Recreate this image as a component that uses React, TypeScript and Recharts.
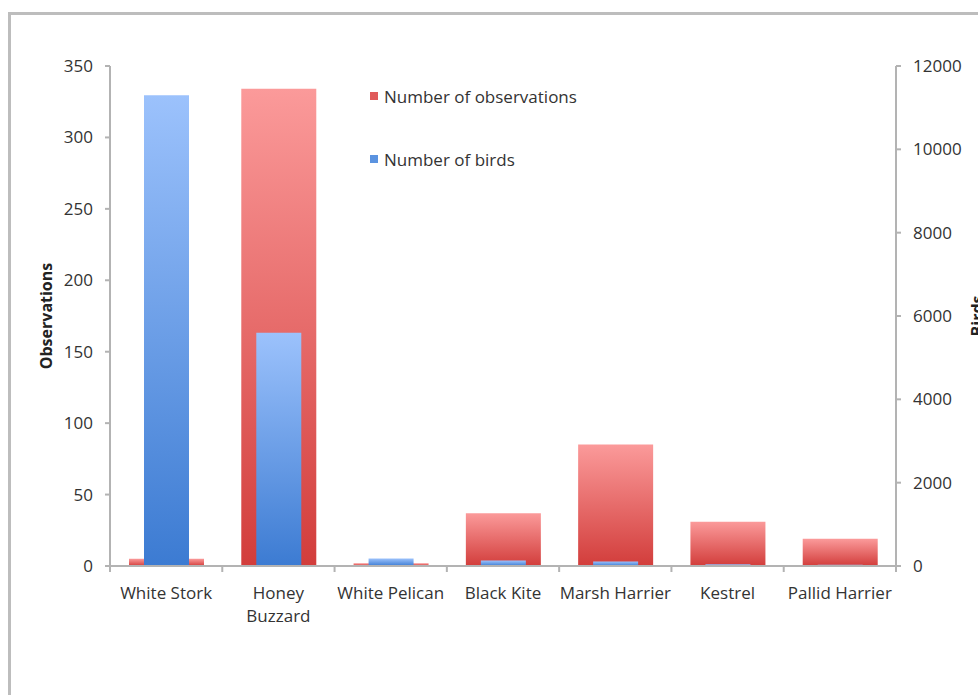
import { BarChart, Bar, XAxis, YAxis } from "recharts";

const species = [
  "White Stork",
  "Honey Buzzard",
  "White Pelican",
  "Black Kite",
  "Marsh Harrier",
  "Kestrel",
  "Pallid Harrier",
];
const observations = [5, 334, 2, 37, 85, 31, 19];
const birds = [11300, 5600, 180, 130, 110, 40, 30];

const obsTicks = [0, 50, 100, 150, 200, 250, 300, 350];
const birdTicks = [0, 2000, 4000, 6000, 8000, 10000, 12000];

// labels that the axis breaks onto two lines
const tickLines: Record<string, string[]> = {
  "Honey Buzzard": ["Honey", "Buzzard"],
};

const legendItems = [
  { label: "Number of observations", color: "#e05a5a" },
  { label: "Number of birds", color: "#5b93e0" },
];

const data = species.map((name, i) => ({
  name,
  observations: observations[i],
  birds: birds[i],
}));

const FONT = "'Open Sans', Lato, sans-serif";
const AXIS = "#b3b3b3";
const TEXT = "#333";
const SIZE = 17;

// category label plus the boundary tick marks between categories
function CategoryTick(props: any) {
  const { x, y, payload, index, visibleTicksCount } = props;
  const half = 786 / species.length / 2;
  const lines = tickLines[payload.value] ?? [payload.value];
  const last = index === (visibleTicksCount ?? species.length) - 1;
  return (
    <g>
      <line x1={x - half} x2={x - half} y1={y - 14} y2={y - 8} stroke={AXIS} strokeWidth={2} />
      {last && (
        <line x1={x + half} x2={x + half} y1={y - 14} y2={y - 8} stroke={AXIS} strokeWidth={2} />
      )}
      {lines.map((line: string, i: number) => (
        <text
          key={line}
          x={x}
          y={y + i * 23}
          dy={19}
          textAnchor="middle"
          fill={TEXT}
          fontSize={SIZE}
          fontFamily={FONT}
        >
          {line}
        </text>
      ))}
    </g>
  );
}

function AxisTitle(props: any) {
  const { viewBox, value, dx } = props;
  const cx = viewBox.x + dx;
  const cy = viewBox.y + viewBox.height / 2;
  return (
    <text
      x={cx}
      y={cy}
      transform={`rotate(-90, ${cx}, ${cy})`}
      textAnchor="middle"
      dominantBaseline="central"
      fontFamily={FONT}
      fontSize={16}
      fontWeight={700}
      fill="#222"
    >
      {value}
    </text>
  );
}

export default function App() {
  return (
    <div
      style={{
        position: "absolute",
        left: 0,
        top: 0,
        width: 978,
        height: 695,
        overflow: "hidden",
        background: "#fff",
      }}
    >
      {/* outer frame */}
      <div
        style={{
          position: "absolute",
          left: 8,
          top: 12,
          width: 1000,
          height: 720,
          border: "3px solid #bdbdbd",
          boxSizing: "border-box",
        }}
      />
      <BarChart
        width={978}
        height={695}
        data={data}
        margin={{ top: 66, right: 22, bottom: 99, left: 50 }}
        style={{ position: "absolute", left: 0, top: 0 }}
      >
        <defs>
          <linearGradient id="redFill" x1="0" y1="0" x2="0" y2="1">
            <stop offset="0%" stopColor="#fb9a9a" />
            <stop offset="100%" stopColor="#d23d3b" />
          </linearGradient>
          <linearGradient id="blueFill" x1="0" y1="0" x2="0" y2="1">
            <stop offset="0%" stopColor="#9cc2fc" />
            <stop offset="100%" stopColor="#3c7bd2" />
          </linearGradient>
        </defs>
        <XAxis
          xAxisId="main"
          dataKey="name"
          interval={0}
          tick={<CategoryTick />}
          tickSize={6}
          tickMargin={8}
          height={30}
          axisLine={{ stroke: AXIS, strokeWidth: 2 }}
          tickLine={false}
        />
        <XAxis xAxisId="inner" dataKey="name" hide height={0} />
        <YAxis
          yAxisId="obs"
          domain={[0, 350]}
          ticks={obsTicks}
          width={60}
          tickSize={5}
          tickMargin={12}
          axisLine={{ stroke: AXIS, strokeWidth: 2 }}
          tickLine={{ stroke: AXIS, strokeWidth: 2 }}
          tick={{ fill: TEXT, fontSize: SIZE, fontFamily: FONT }}
          label={<AxisTitle value="Observations" dx={-4} />}
        />
        <YAxis
          yAxisId="birds"
          orientation="right"
          domain={[0, 12000]}
          ticks={birdTicks}
          width={60}
          tickSize={5}
          tickMargin={12}
          axisLine={{ stroke: AXIS, strokeWidth: 2 }}
          tickLine={{ stroke: AXIS, strokeWidth: 2 }}
          tick={{ fill: TEXT, fontSize: SIZE, fontFamily: FONT }}
          label={<AxisTitle value="Birds" dx={81} />}
        />
        <Bar
          dataKey="observations"
          name="Number of observations"
          xAxisId="main"
          yAxisId="obs"
          barSize={75}
          fill="url(#redFill)"
          isAnimationActive={false}
        />
        <Bar
          dataKey="birds"
          name="Number of birds"
          xAxisId="inner"
          yAxisId="birds"
          barSize={45}
          fill="url(#blueFill)"
          isAnimationActive={false}
        />
      </BarChart>
      {/* legend */}
      <div
        style={{
          position: "absolute",
          left: 370,
          top: 85,
          fontFamily: FONT,
          fontSize: SIZE,
          color: TEXT,
        }}
      >
        {legendItems.map((it) => (
          <div
            key={it.label}
            style={{ display: "flex", alignItems: "center", height: 22, marginBottom: 41 }}
          >
            <span
              style={{
                display: "inline-block",
                width: 8,
                height: 8,
                background: it.color,
                marginRight: 6,
              }}
            />
            {it.label}
          </div>
        ))}
      </div>
    </div>
  );
}
